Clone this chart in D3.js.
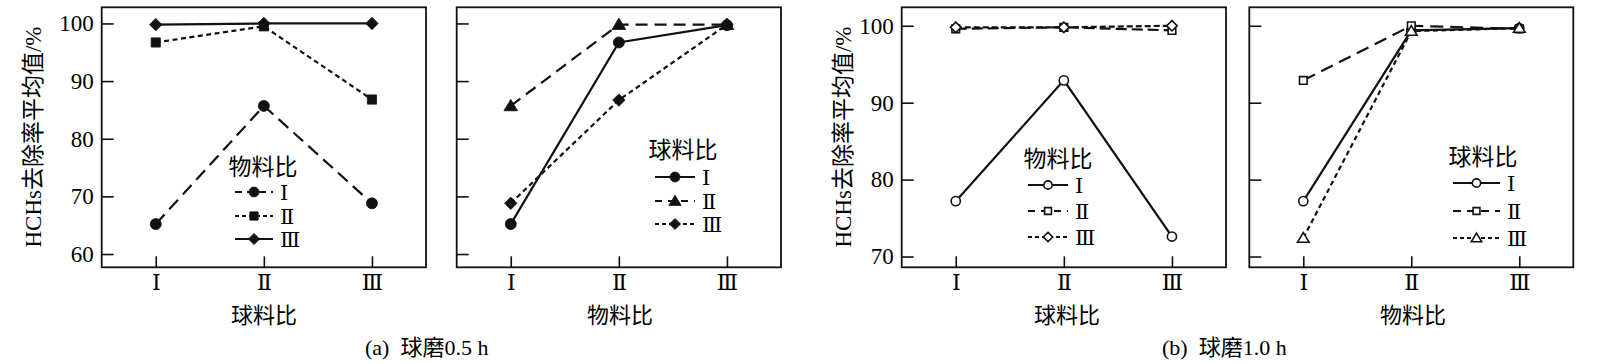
<!DOCTYPE html>
<html><head><meta charset="utf-8">
<script src="https://cdn.jsdelivr.net/npm/d3@7"></script>
<style>
body{margin:0;background:#fff}
text{fill:#000}
</style></head><body>
<svg id="c" width="1600" height="364"></svg>
<script>
// ---------------- DATA ----------------
const xCategories = ["Ⅰ", "Ⅱ", "Ⅲ"];
const legendLabels = ["Ⅰ", "Ⅱ", "Ⅲ"];
const yTicksA = [60, 70, 80, 90, 100];
const yTicksB = [70, 80, 90, 100];
const yTitle = "HCHs去除率平均值/%";
const captionA = "(a)  球磨0.5 h";
const captionB = "(b)  球磨1.0 h";

// (a) 0.5 h, x = 球料比, series = 物料比
const a1_I   = [65.2, 85.7, 68.8];
const a1_II  = [96.7, 99.5, 86.8];
const a1_III = [99.8, 100.0, 100.0];
// (a) 0.5 h, x = 物料比, series = 球料比
const a2_I   = [65.2, 96.7, 99.7];
const a2_II  = [85.7, 99.8, 99.8];
const a2_III = [68.8, 86.7, 99.8];
// (b) 1.0 h, x = 球料比, series = 物料比
const b1_I   = [77.2, 92.9, 72.6];
const b1_II  = [99.6, 99.8, 99.4];
const b1_III = [99.8, 99.8, 100.0];
// (b) 1.0 h, x = 物料比, series = 球料比
const b2_I   = [77.2, 99.4, 99.7];
const b2_II  = [92.9, 100.0, 99.6];
const b2_III = [72.4, 99.3, 99.7];

// ---------------- DRAWING ----------------
const svg = d3.select("#c");
const INK = "#111";
const SERIF = "'Liberation Serif','Times New Roman','Noto Sans CJK SC',serif";
const ROMAN = "'DejaVu Serif','Liberation Serif',serif";
const CJK = "'Noto Sans CJK SC','Noto Sans CJK JP',sans-serif";
const MIX = "'Liberation Serif','Noto Sans CJK SC',serif";

function markerPath(type, s) {
  const p = d3.path();
  if (type === "circle") { p.moveTo(s, 0); p.arc(0, 0, s, 0, Math.PI * 2); }
  else if (type === "square") { p.rect(-s, -s, 2 * s, 2 * s); }
  else if (type === "diamond") { p.moveTo(0, -s); p.lineTo(s, 0); p.lineTo(0, s); p.lineTo(-s, 0); p.closePath(); }
  else if (type === "triangle") { const h = s * 1.0; p.moveTo(0, -h); p.lineTo(s * 1.05, h * 0.75); p.lineTo(-s * 1.05, h * 0.75); p.closePath(); }
  return p.toString();
}
const markerSize = {
  filled: {circle: 5.5, square: 4.6, diamond: 6.2, triangle: 6.5},
  open: {circle: 4.6, square: 3.8, diamond: 5.2, triangle: 5.5}
};

function drawMarker(g, x, y, m) {
  const s = markerSize[m.filled ? "filled" : "open"][m.shape] * (m.scale || 1);
  g.append("path")
    .attr("d", markerPath(m.shape, s))
    .attr("transform", `translate(${x},${y})`)
    .attr("fill", m.filled ? INK : "#fff")
    .attr("stroke", INK)
    .attr("stroke-width", m.filled ? 0.8 : 1.6);
}

function drawPanel(cfg) {
  const g = svg.append("g");
  const x = d3.scalePoint().domain(xCategories).range([cfg.left, cfg.right]).padding(0.5);
  const y = d3.scaleLinear().domain(cfg.yDomain).range([cfg.bottom, cfg.top]);

  // y axis (ticks inside)
  const ya = g.append("g").attr("transform", `translate(${cfg.left},0)`)
    .call(d3.axisLeft(y).tickValues(cfg.yTicks).tickSizeInner(-12).tickSizeOuter(0).tickPadding(8)
      .tickFormat(cfg.showY ? d3.format("d") : () => ""));
  ya.select(".domain").remove();
  ya.selectAll("line").attr("stroke", INK).attr("stroke-width", 1.6);
  ya.selectAll("text").attr("font-family", SERIF).attr("font-size", 23).attr("fill", "#000");

  // x axis (ticks inside)
  const xa = g.append("g").attr("transform", `translate(0,${cfg.bottom})`)
    .call(d3.axisBottom(x).tickSizeInner(-11).tickSizeOuter(0).tickPadding(7));
  xa.select(".domain").remove();
  xa.selectAll("line").attr("stroke", INK).attr("stroke-width", 1.6);
  xa.selectAll("text").attr("font-family", ROMAN).attr("font-size", 22).attr("fill", "#000");

  // frame
  g.append("rect").attr("x", cfg.left).attr("y", cfg.top)
    .attr("width", cfg.right - cfg.left).attr("height", cfg.bottom - cfg.top)
    .attr("fill", "none").attr("stroke", INK).attr("stroke-width", 1.8);

  // series
  const line = d3.line().x((d, i) => x(xCategories[i])).y(d => y(d));
  cfg.series.forEach(s => {
    g.append("path").datum(s.values).attr("d", line)
      .attr("fill", "none").attr("stroke", INK).attr("stroke-width", 2.2)
      .attr("stroke-dasharray", s.dash);
  });
  cfg.series.forEach(s => {
    s.values.forEach((v, i) => drawMarker(g, x(xCategories[i]), y(v), s.marker));
  });

  // x title
  g.append("text").attr("x", cfg.xTitleX).attr("y", 315).attr("dy", "0.35em")
    .attr("text-anchor", "middle").attr("font-family", CJK).attr("font-size", 22)
    .text(cfg.xTitle);

  // y title
  if (cfg.showY) {
    g.append("text").attr("transform", `translate(${cfg.yTitleX},137) rotate(-90)`)
      .attr("dy", "0.35em").attr("text-anchor", "middle")
      .attr("font-family", MIX).attr("font-size", 23).text(yTitle);
  }

  // legend
  const L = cfg.legend;
  g.append("text").attr("x", L.cx).attr("y", L.titleY).attr("dy", "0.35em")
    .attr("text-anchor", "middle").attr("font-family", CJK).attr("font-size", 23)
    .text(cfg.legendTitle);
  cfg.series.forEach((s, i) => {
    const yy = L.itemY[i];
    g.append("line").attr("x1", L.x0).attr("x2", L.x1).attr("y1", yy).attr("y2", yy)
      .attr("stroke", INK).attr("stroke-width", 2.2).attr("stroke-dasharray", s.legendDash || s.dash);
    drawMarker(g, (L.x0 + L.x1) / 2, yy, Object.assign({}, s.marker, {scale: 0.9}));
    g.append("text").attr("x", L.x1 + 7).attr("y", yy).attr("dy", "0.36em")
      .attr("font-family", ROMAN).attr("font-size", 21).text(legendLabels[i]);
  });
}

const LONG = "13,7", SHORT = "5,3.5", SOLID = null;

drawPanel({
  left: 101.7, right: 426, top: 7.3, bottom: 267.3,
  yDomain: [57.7, 102.8], yTicks: yTicksA, showY: true, yTitleX: 33,
  xTitle: "球料比", xTitleX: 264, legendTitle: "物料比",
  legend: {cx: 263, titleY: 167, itemY: [192, 216, 239], x0: 235, x1: 273},
  series: [
    {values: a1_I, dash: LONG, legendDash: "7,5", marker: {shape: "circle", filled: true}},
    {values: a1_II, dash: SHORT, legendDash: "4,3", marker: {shape: "square", filled: true}},
    {values: a1_III, dash: SOLID, marker: {shape: "diamond", filled: true}}
  ]
});
drawPanel({
  left: 456.7, right: 781, top: 7.3, bottom: 267.3,
  yDomain: [57.7, 102.8], yTicks: yTicksA, showY: false,
  xTitle: "物料比", xTitleX: 620, legendTitle: "球料比",
  legend: {cx: 683, titleY: 150, itemY: [177, 201, 224], x0: 655, x1: 695},
  series: [
    {values: a2_I, dash: SOLID, marker: {shape: "circle", filled: true}},
    {values: a2_II, dash: "12,7", legendDash: "7,6", marker: {shape: "triangle", filled: true}},
    {values: a2_III, dash: SHORT, legendDash: "4,3", marker: {shape: "diamond", filled: true}}
  ]
});
drawPanel({
  left: 901.7, right: 1226, top: 7.3, bottom: 267.3,
  yDomain: [68.6, 102.4], yTicks: yTicksB, showY: true, yTitleX: 843,
  xTitle: "球料比", xTitleX: 1067, legendTitle: "物料比",
  legend: {cx: 1058, titleY: 159, itemY: [185, 211, 237], x0: 1028, x1: 1068},
  series: [
    {values: b1_I, dash: SOLID, marker: {shape: "circle", filled: false}},
    {values: b1_II, dash: "11,5", legendDash: "7,6", marker: {shape: "square", filled: false}},
    {values: b1_III, dash: "6,3", legendDash: "4,3", marker: {shape: "diamond", filled: false}}
  ]
});
drawPanel({
  left: 1249.3, right: 1573.3, top: 7.3, bottom: 267.3,
  yDomain: [68.6, 102.4], yTicks: yTicksB, showY: false,
  xTitle: "物料比", xTitleX: 1413, legendTitle: "球料比",
  legend: {cx: 1483, titleY: 157, itemY: [183, 211, 238], x0: 1453, x1: 1500},
  series: [
    {values: b2_I, dash: SOLID, marker: {shape: "circle", filled: false}},
    {values: b2_II, dash: "13,7", legendDash: "8,6", marker: {shape: "square", filled: false}},
    {values: b2_III, dash: SHORT, legendDash: "4,3", marker: {shape: "triangle", filled: false}}
  ]
});

// captions
svg.append("text").attr("x", 365).attr("y", 355).attr("font-family", MIX).attr("font-size", 22)
  .attr("xml:space", "preserve").style("white-space", "pre").text(captionA);
svg.append("text").attr("x", 1162).attr("y", 355).attr("font-family", MIX).attr("font-size", 22)
  .attr("xml:space", "preserve").style("white-space", "pre").text(captionB);
</script>
</body></html>
